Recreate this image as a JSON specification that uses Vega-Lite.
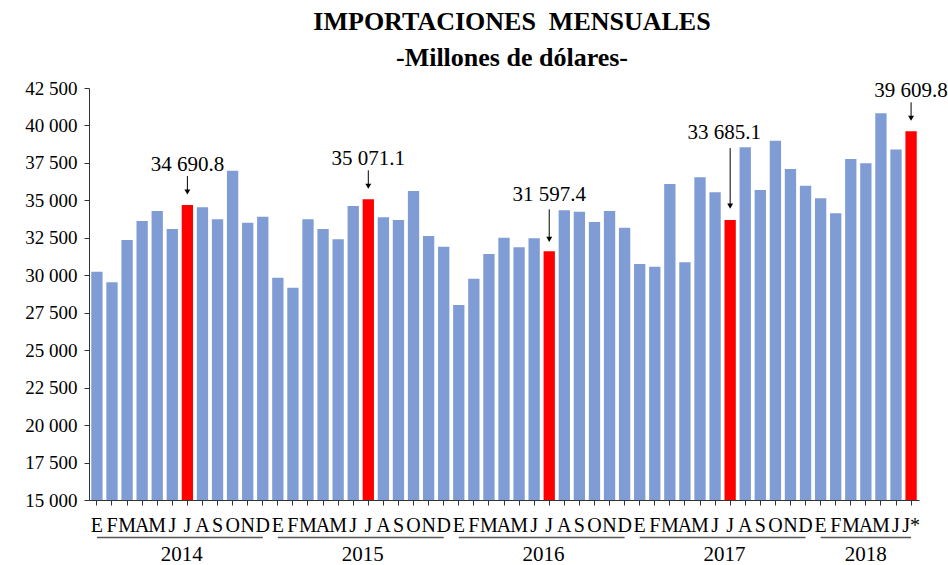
{
  "$schema": "https://vega.github.io/schema/vega-lite/v6.json",
  "width": 830,
  "height": 412,
  "padding": {"left": 24, "top": 9, "right": 3, "bottom": 0},
  "config": {
    "view": {"stroke": null},
    "font": "Liberation Serif",
    "axis": {"labelOverlap": false}
  },
  "title": {
    "text": "IMPORTACIONES\u00a0\u00a0MENSUALES",
    "subtitle": "-Millones de dólares-",
    "font": "Liberation Serif",
    "subtitleFont": "Liberation Serif",
    "fontSize": 26,
    "subtitleFontSize": 26,
    "fontWeight": "bold",
    "subtitleFontWeight": "bold",
    "color": "black",
    "subtitleColor": "black",
    "anchor": "middle",
    "frame": "group",
    "dx": 8,
    "offset": 8,
    "subtitlePadding": 10
  },
  "datasets": {
    "meses": [
      {"t": "2014-01", "anio": 2014, "m": 1, "v": 30240},
      {"t": "2014-02", "anio": 2014, "m": 2, "v": 29530},
      {"t": "2014-03", "anio": 2014, "m": 3, "v": 32355},
      {"t": "2014-04", "anio": 2014, "m": 4, "v": 33623},
      {"t": "2014-05", "anio": 2014, "m": 5, "v": 34291},
      {"t": "2014-06", "anio": 2014, "m": 6, "v": 33089},
      {"t": "2014-07", "anio": 2014, "m": 7, "v": 34690.8},
      {"t": "2014-08", "anio": 2014, "m": 8, "v": 34537},
      {"t": "2014-09", "anio": 2014, "m": 9, "v": 33737},
      {"t": "2014-10", "anio": 2014, "m": 10, "v": 36982},
      {"t": "2014-11", "anio": 2014, "m": 11, "v": 33510},
      {"t": "2014-12", "anio": 2014, "m": 12, "v": 33911},
      {"t": "2015-01", "anio": 2015, "m": 1, "v": 29839},
      {"t": "2015-02", "anio": 2015, "m": 2, "v": 29171},
      {"t": "2015-03", "anio": 2015, "m": 3, "v": 33737},
      {"t": "2015-04", "anio": 2015, "m": 4, "v": 33089},
      {"t": "2015-05", "anio": 2015, "m": 5, "v": 32402},
      {"t": "2015-06", "anio": 2015, "m": 6, "v": 34625},
      {"t": "2015-07", "anio": 2015, "m": 7, "v": 35071.1},
      {"t": "2015-08", "anio": 2015, "m": 8, "v": 33870},
      {"t": "2015-09", "anio": 2015, "m": 9, "v": 33690},
      {"t": "2015-10", "anio": 2015, "m": 10, "v": 35626},
      {"t": "2015-11", "anio": 2015, "m": 11, "v": 32622},
      {"t": "2015-12", "anio": 2015, "m": 12, "v": 31908},
      {"t": "2016-01", "anio": 2016, "m": 1, "v": 28016},
      {"t": "2016-02", "anio": 2016, "m": 2, "v": 29772},
      {"t": "2016-03", "anio": 2016, "m": 3, "v": 31420},
      {"t": "2016-04", "anio": 2016, "m": 4, "v": 32509},
      {"t": "2016-05", "anio": 2016, "m": 5, "v": 31868},
      {"t": "2016-06", "anio": 2016, "m": 6, "v": 32469},
      {"t": "2016-07", "anio": 2016, "m": 7, "v": 31597.4},
      {"t": "2016-08", "anio": 2016, "m": 8, "v": 34338},
      {"t": "2016-09", "anio": 2016, "m": 9, "v": 34244},
      {"t": "2016-10", "anio": 2016, "m": 10, "v": 33557},
      {"t": "2016-11", "anio": 2016, "m": 11, "v": 34291},
      {"t": "2016-12", "anio": 2016, "m": 12, "v": 33180},
      {"t": "2017-01", "anio": 2017, "m": 1, "v": 30753},
      {"t": "2017-02", "anio": 2017, "m": 2, "v": 30575},
      {"t": "2017-03", "anio": 2017, "m": 3, "v": 36093},
      {"t": "2017-04", "anio": 2017, "m": 4, "v": 30866},
      {"t": "2017-05", "anio": 2017, "m": 5, "v": 36540},
      {"t": "2017-06", "anio": 2017, "m": 6, "v": 35539},
      {"t": "2017-07", "anio": 2017, "m": 7, "v": 33685.1},
      {"t": "2017-08", "anio": 2017, "m": 8, "v": 38542},
      {"t": "2017-09", "anio": 2017, "m": 9, "v": 35693},
      {"t": "2017-10", "anio": 2017, "m": 10, "v": 38985},
      {"t": "2017-11", "anio": 2017, "m": 11, "v": 37094},
      {"t": "2017-12", "anio": 2017, "m": 12, "v": 35980},
      {"t": "2018-01", "anio": 2018, "m": 1, "v": 35138},
      {"t": "2018-02", "anio": 2018, "m": 2, "v": 34137},
      {"t": "2018-03", "anio": 2018, "m": 3, "v": 37760},
      {"t": "2018-04", "anio": 2018, "m": 4, "v": 37475},
      {"t": "2018-05", "anio": 2018, "m": 5, "v": 40812},
      {"t": "2018-06", "anio": 2018, "m": 6, "v": 38400},
      {"t": "2018-07", "anio": 2018, "m": 7, "v": 39609.8}
    ],
    "anios": [
      {"anio": "2014", "desde": "2014-01", "hasta": "2014-12", "centro": "2014-07", "completo": true},
      {"anio": "2015", "desde": "2015-01", "hasta": "2015-12", "centro": "2015-07", "completo": true},
      {"anio": "2016", "desde": "2016-01", "hasta": "2016-12", "centro": "2016-07", "completo": true},
      {"anio": "2017", "desde": "2017-01", "hasta": "2017-12", "centro": "2017-07", "completo": true},
      {"anio": "2018", "desde": "2018-01", "hasta": "2018-07", "centro": "2018-04", "completo": false}
    ]
  },
  "layer": [
    {
      "data": {"name": "meses"},
      "mark": {"type": "bar"},
      "encoding": {
        "x": {
          "field": "t", "type": "ordinal",
          "scale": {"paddingInner": 0.25, "paddingOuter": 0.15},
          "axis": {
            "title": null, "tickSize": 5, "labelPadding": 10,
            "labelFont": "Liberation Serif", "labelFontSize": 20, "labelColor": "black",
            "labelAngle": 0, "labelOverlap": false, "domainColor": "#333333", "tickColor": "#333333",
            "labelExpr": "datum.value == '2018-07' ? 'J*' : ['E','F','M','A','M','J','J','A','S','O','N','D'][toNumber(slice(datum.value, 5)) - 1]"
          }
        },
        "y": {
          "field": "v", "type": "quantitative",
          "scale": {"domain": [15000, 42500], "nice": false, "zero": false},
          "axis": {
            "title": null, "grid": false, "values": [15000, 17500, 20000, 22500, 25000, 27500, 30000, 32500, 35000, 37500, 40000, 42500],
            "labelExpr": "replace(format(datum.value, ','), regexp(',', 'g'), ' ')",
            "labelOverlap": false,
            "tickSize": 5, "labelPadding": 7, "labelFont": "Liberation Serif", "labelFontSize": 19,
            "labelColor": "black", "domainColor": "#333333", "tickColor": "#333333"
          }
        },
        "y2": {"datum": 15000},
        "color": {
          "condition": {"test": "datum.m == 7", "value": "#FF0000"},
          "value": "#7F9DD4"
        }
      }
    },
    {
      "data": {"name": "meses"},
      "transform": [
        {"filter": "datum.m == 7 && (datum.anio == 2014 || datum.anio == 2015 || datum.anio == 2018)"},
        {"calculate": "replace(format(datum.v, ',.1f'), regexp(',', 'g'), ' ')", "as": "etiqueta"}
      ],
      "layer": [
        {"mark": {"type": "text", "fontSize": 21, "font": "Liberation Serif", "color": "black", "baseline": "middle", "dy": -40},
         "encoding": {"text": {"field": "etiqueta"}}},
        {"mark": {"type": "rule", "color": "black", "strokeWidth": 1, "yOffset": -29, "y2Offset": -12},
         "encoding": {"y2": {"field": "v"}}},
        {"mark": {"type": "point", "shape": "triangle-down", "filled": true, "color": "black", "opacity": 1, "size": 35, "yOffset": -13},
         "encoding": {}}
      ],
      "encoding": {
        "x": {"field": "t", "type": "ordinal"},
        "y": {
          "field": "v", "type": "quantitative",
          "axis": {
            "title": null, "grid": false, "values": [15000, 17500, 20000, 22500, 25000, 27500, 30000, 32500, 35000, 37500, 40000, 42500],
            "labelExpr": "replace(format(datum.value, ','), regexp(',', 'g'), ' ')",
            "labelOverlap": false,
            "tickSize": 5, "labelPadding": 7, "labelFont": "Liberation Serif", "labelFontSize": 19,
            "labelColor": "black", "domainColor": "#333333", "tickColor": "#333333"
          }
        }
      }
    },
    {
      "data": {"name": "meses"},
      "transform": [
        {"filter": "datum.m == 7 && datum.anio == 2016"},
        {"calculate": "replace(format(datum.v, ',.1f'), regexp(',', 'g'), ' ')", "as": "etiqueta"}
      ],
      "layer": [
        {"mark": {"type": "text", "fontSize": 21, "font": "Liberation Serif", "color": "black", "baseline": "middle", "dy": -56},
         "encoding": {"text": {"field": "etiqueta"}}},
        {"mark": {"type": "rule", "color": "black", "strokeWidth": 1, "yOffset": -42, "y2Offset": -11},
         "encoding": {"y2": {"field": "v"}}},
        {"mark": {"type": "point", "shape": "triangle-down", "filled": true, "color": "black", "opacity": 1, "size": 35, "yOffset": -12},
         "encoding": {}}
      ],
      "encoding": {
        "x": {"field": "t", "type": "ordinal"},
        "y": {
          "field": "v", "type": "quantitative",
          "axis": {
            "title": null, "grid": false, "values": [15000, 17500, 20000, 22500, 25000, 27500, 30000, 32500, 35000, 37500, 40000, 42500],
            "labelExpr": "replace(format(datum.value, ','), regexp(',', 'g'), ' ')",
            "labelOverlap": false,
            "tickSize": 5, "labelPadding": 7, "labelFont": "Liberation Serif", "labelFontSize": 19,
            "labelColor": "black", "domainColor": "#333333", "tickColor": "#333333"
          }
        }
      }
    },
    {
      "data": {"name": "meses"},
      "transform": [
        {"filter": "datum.m == 7 && datum.anio == 2017"},
        {"calculate": "replace(format(datum.v, ',.1f'), regexp(',', 'g'), ' ')", "as": "etiqueta"}
      ],
      "layer": [
        {"mark": {"type": "text", "fontSize": 21, "font": "Liberation Serif", "color": "black", "baseline": "middle", "dy": -87, "dx": -6},
         "encoding": {"text": {"field": "etiqueta"}}},
        {"mark": {"type": "rule", "color": "black", "strokeWidth": 1, "yOffset": -72, "y2Offset": -13},
         "encoding": {"y2": {"field": "v"}}},
        {"mark": {"type": "point", "shape": "triangle-down", "filled": true, "color": "black", "opacity": 1, "size": 35, "yOffset": -14},
         "encoding": {}}
      ],
      "encoding": {
        "x": {"field": "t", "type": "ordinal"},
        "y": {
          "field": "v", "type": "quantitative",
          "axis": {
            "title": null, "grid": false, "values": [15000, 17500, 20000, 22500, 25000, 27500, 30000, 32500, 35000, 37500, 40000, 42500],
            "labelExpr": "replace(format(datum.value, ','), regexp(',', 'g'), ' ')",
            "labelOverlap": false,
            "tickSize": 5, "labelPadding": 7, "labelFont": "Liberation Serif", "labelFontSize": 19,
            "labelColor": "black", "domainColor": "#333333", "tickColor": "#333333"
          }
        }
      }
    },
    {
      "data": {"name": "anios"},
      "mark": {"type": "rule", "color": "#555555", "strokeWidth": 1.5},
      "encoding": {
        "x": {"field": "desde", "type": "ordinal"},
        "x2": {"field": "hasta"},
        "y": {
          "datum": 12500, "type": "quantitative",
          "axis": {
            "title": null, "grid": false, "values": [15000, 17500, 20000, 22500, 25000, 27500, 30000, 32500, 35000, 37500, 40000, 42500],
            "labelExpr": "replace(format(datum.value, ','), regexp(',', 'g'), ' ')",
            "labelOverlap": false,
            "tickSize": 5, "labelPadding": 7, "labelFont": "Liberation Serif", "labelFontSize": 19,
            "labelColor": "black", "domainColor": "#333333", "tickColor": "#333333"
          }
        }
      }
    },
    {
      "data": {"name": "anios"},
      "transform": [{"filter": "datum.completo"}],
      "mark": {"type": "text", "fontSize": 21, "font": "Liberation Serif", "color": "black", "baseline": "middle"},
      "encoding": {
        "x": {"field": "centro", "type": "ordinal", "bandPosition": 0},
        "y": {
          "datum": 11350, "type": "quantitative",
          "axis": {
            "title": null, "grid": false, "values": [15000, 17500, 20000, 22500, 25000, 27500, 30000, 32500, 35000, 37500, 40000, 42500],
            "labelExpr": "replace(format(datum.value, ','), regexp(',', 'g'), ' ')",
            "labelOverlap": false,
            "tickSize": 5, "labelPadding": 7, "labelFont": "Liberation Serif", "labelFontSize": 19,
            "labelColor": "black", "domainColor": "#333333", "tickColor": "#333333"
          }
        },
        "text": {"field": "anio"}
      }
    },
    {
      "data": {"name": "anios"},
      "transform": [{"filter": "!datum.completo"}],
      "mark": {"type": "text", "fontSize": 21, "font": "Liberation Serif", "color": "black", "baseline": "middle"},
      "encoding": {
        "x": {"field": "centro", "type": "ordinal"},
        "y": {
          "datum": 11350, "type": "quantitative",
          "axis": {
            "title": null, "grid": false, "values": [15000, 17500, 20000, 22500, 25000, 27500, 30000, 32500, 35000, 37500, 40000, 42500],
            "labelExpr": "replace(format(datum.value, ','), regexp(',', 'g'), ' ')",
            "labelOverlap": false,
            "tickSize": 5, "labelPadding": 7, "labelFont": "Liberation Serif", "labelFontSize": 19,
            "labelColor": "black", "domainColor": "#333333", "tickColor": "#333333"
          }
        },
        "text": {"field": "anio"}
      }
    }
  ]
}
